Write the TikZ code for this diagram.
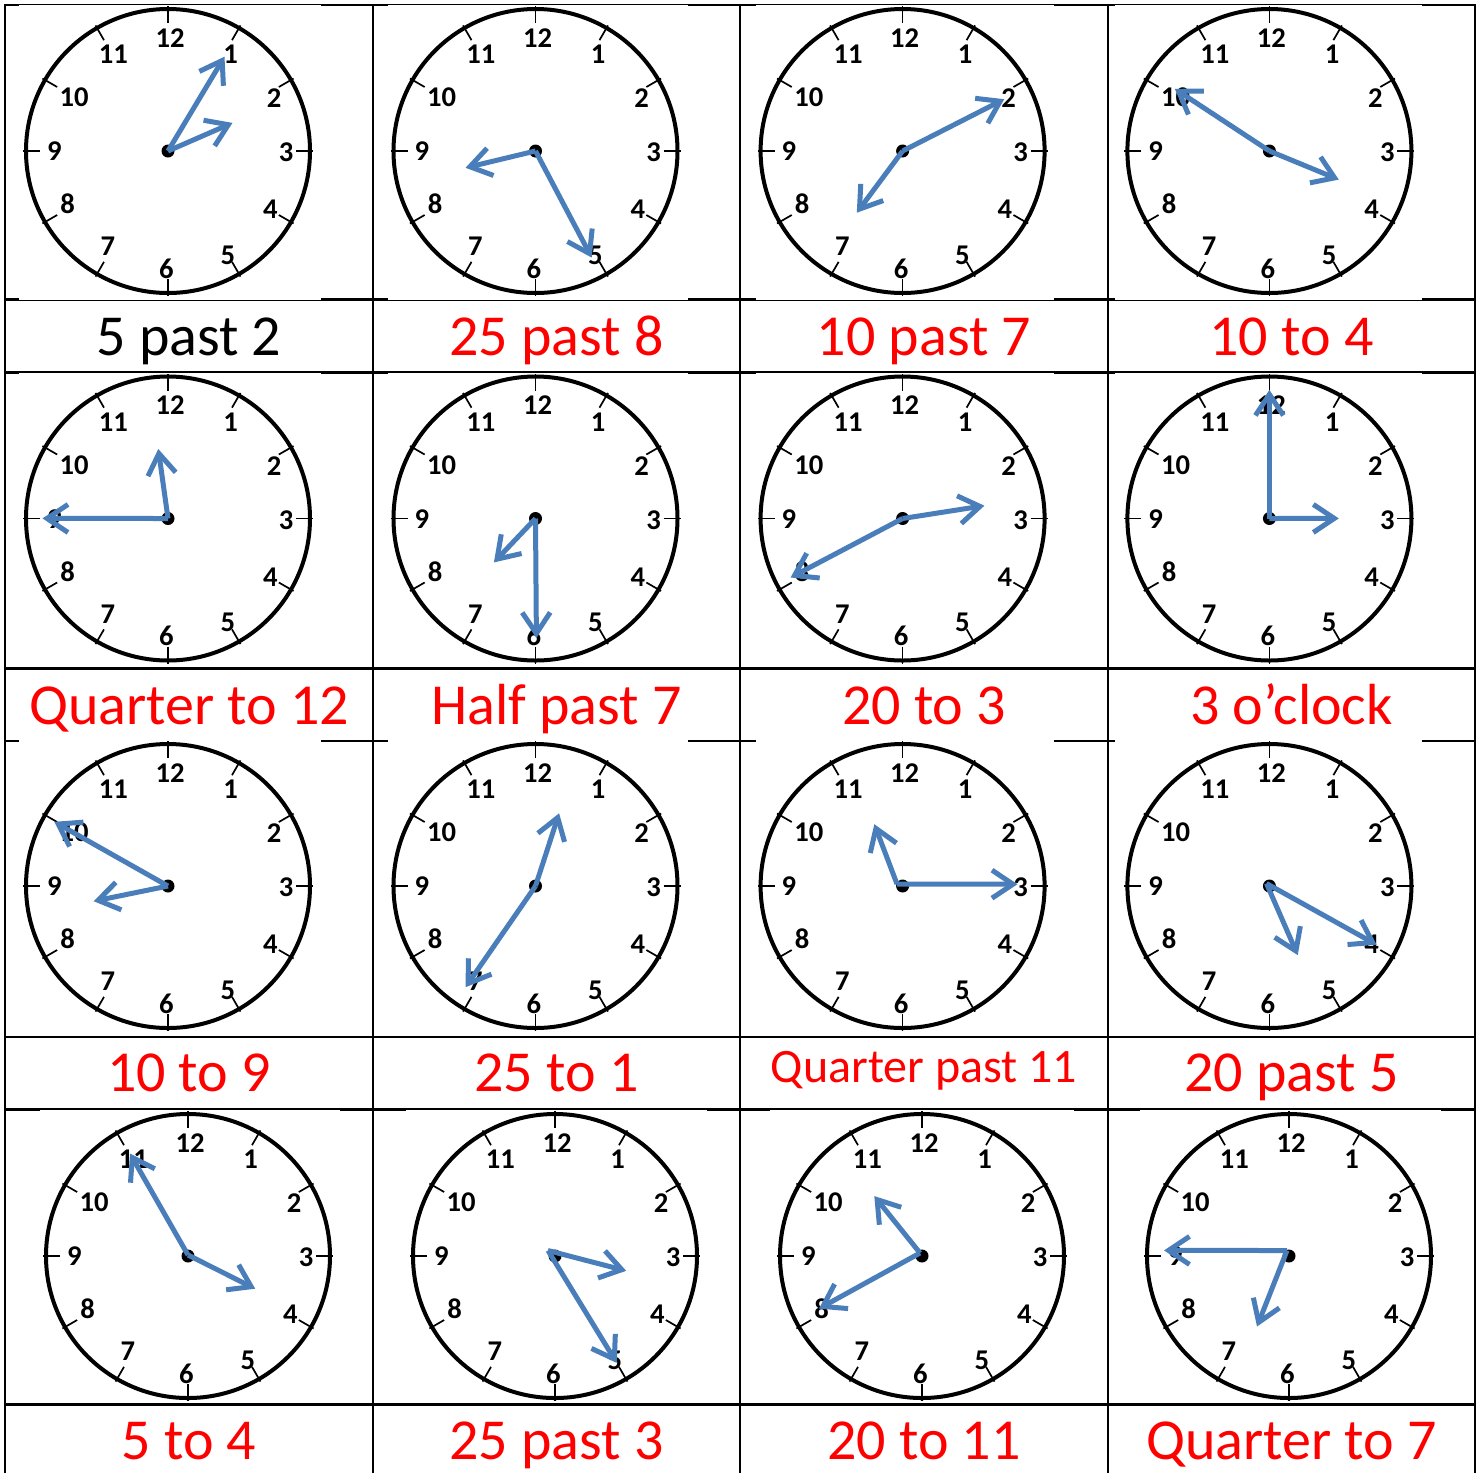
\documentclass[tikz,border=0pt]{standalone}
\usepackage{fontspec}
\setmainfont{Carlito}
\usetikzlibrary{arrows.meta}
\definecolor{handblue}{RGB}{74,126,187}
\definecolor{labred}{RGB}{255,0,0}

\newcommand{\clk}[3]{%
  \begin{scope}[shift={(#2,#3)}]
    \draw[face] (0,0) circle[radius=142];
    \foreach \h in {1,...,12}{\draw[tickmark] ({128*sin(30*\h)},{-128*cos(30*\h)}) -- ({145*sin(30*\h)},{-145*cos(30*\h)});}
    \foreach \h/\dx/\dy in {12/2/-113, 1/62.6/-96.7, 2/106/-52.7, 3/118/1.6, 4/102.3/58.4, 5/59.8/104.2, 6/-1.6/117.4, 7/-60.2/95.7, 8/-100.4/53.2, 9/-113.7/0.2, 10/-93.8/-53.6, 11/-54.6/-96.7}{\node[num] (#1n\h) at (\dx,\dy) {\h};}
    \fill[hub] (0,0) circle[radius=6.5];
  \end{scope}}

\newcommand{\hnds}[7]{%
  \coordinate (#1o) at (#2,#3);
  \coordinate (#1a) at (#4,#5);
  \coordinate (#1b) at (#6,#7);
  \draw[hand] (#1o) -- (#1a);
  \draw[hand] (#1o) -- (#1b);}

\begin{document}
\begin{tikzpicture}[x=0.5pt,y=-0.5pt,
  grid/.style={line width=1.1pt,black},
  imgbg/.style={fill=white,draw=none},
  face/.style={line width=2pt,black},
  tickmark/.style={line width=0.85pt,black},
  num/.style={font=\fontsize{14.3}{14}\selectfont\bfseries,inner sep=0pt,text=black},
  hand/.style={line width=2.5pt,handblue,-{Straight Barb[length=10.5pt,width=14pt]}},
  hub/.style={fill=black},
  lab/.style={font=\fontsize{29}{30}\selectfont,anchor=base,inner sep=0pt,text=labred},
]
\useasboundingbox (0,0) rectangle (1482,1473);
\fill[white] (0,0) rectangle (1482,1473);

% grid
\foreach \yy in {5,299.5,372.5,668.5,741,1037,1109.5,1404.5}{\draw[grid] (4,\yy) -- (1476,\yy);}
\foreach \xx in {5,373,740,1108,1475}{\draw[grid] (\xx,4) -- (\xx,1473);}

% picture backgrounds that hide parts of the grid
\foreach \xa/\xb in {19/321,388/688,756/1054,1115/1422}{
  \fill[imgbg] (\xa,5.3) rectangle (\xb,299.6);
  \fill[imgbg] (\xa,372.6) rectangle (\xb,667);
  \fill[imgbg] (\xa,738.5) rectangle (\xb,1035);}
\foreach \xa/\xb in {40/340,406/707,770/1074,1140/1441}{
  \fill[imgbg] (\xa,1109.6) rectangle (\xb,1403);}

% clock faces
\clk{A}{168}{151}
\clk{B}{535.5}{151}
\clk{C}{902.6}{151}
\clk{D}{1269.4}{151}
\clk{E}{168}{518.5}
\clk{F}{535.5}{518.5}
\clk{G}{902.6}{518.5}
\clk{H}{1269.4}{518.5}
\clk{I}{168}{886}
\clk{J}{535.5}{886}
\clk{K}{902.6}{886}
\clk{L}{1269.4}{886}
\clk{M}{188}{1256}
\clk{N}{555}{1256}
\clk{O}{922}{1256}
\clk{P}{1289}{1256}

% hands
\hnds{A}{168}{151}{224.5}{56.7}{232.5}{122.9}
\hnds{B}{535.5}{151}{465.5}{167.8}{591.7}{257.6}
\hnds{C}{902.6}{151}{1004.2}{99.2}{856.8}{212.7}
\hnds{D}{1269.4}{151}{1174.8}{88.8}{1338.8}{179.6}
\hnds{E}{168}{518.5}{158.3}{449}{42.5}{518.4}
\hnds{F}{535.5}{518.5}{536.4}{638}{493.9}{562.4}
\hnds{G}{902.6}{518.5}{984.4}{505.7}{790.6}{577.5}
\hnds{H}{1269.4}{518.5}{1269.4}{389.9}{1338.8}{518.4}
\hnds{I}{168}{886}{54.3}{821.8}{93.6}{901.2}
\hnds{J}{535.5}{886}{559.1}{813.3}{465.5}{987.2}
\hnds{K}{897}{884}{874.3}{824.2}{1017.5}{884.2}
\hnds{L}{1266.5}{883.5}{1376.6}{944.7}{1297.7}{955.1}
\hnds{M}{188}{1255}{130}{1153.6}{255.2}{1288.7}
\hnds{N}{548}{1250.5}{626.2}{1270.8}{616.7}{1362.9}
\hnds{O}{920}{1253}{874.3}{1196.1}{819}{1308.6}
\hnds{P}{1287}{1250.5}{1164}{1250.4}{1257}{1326.5}

% labels
\node[lab,text=black] (lA) at (189,355) {5 past 2};
\node[lab] (lB) at (556.5,355) {25 past 8};
\node[lab] (lC) at (924,355) {10 past 7};
\node[lab] (lD) at (1291.5,355) {10 to 4};
\node[lab] (lE) at (189,724) {Quarter to 12};
\node[lab] (lF) at (556.5,724) {Half past 7};
\node[lab] (lG) at (924,724) {20 to 3};
\node[lab] (lH) at (1291.5,724) {3 o’clock};
\node[lab] (lI) at (189,1091.5) {10 to 9};
\node[lab] (lJ) at (556.5,1091.5) {25 to 1};
\node[lab,font=\fontsize{24}{25}\selectfont] (lK) at (924,1082) {Quarter past 11};
\node[lab] (lL) at (1291.5,1091.5) {20 past 5};
\node[lab] (lM) at (189,1459) {5 to 4};
\node[lab] (lN) at (556.5,1459) {25 past 3};
\node[lab] (lO) at (924,1459) {20 to 11};
\node[lab] (lP) at (1291.5,1459) {Quarter to 7};
\end{tikzpicture}
\end{document}
